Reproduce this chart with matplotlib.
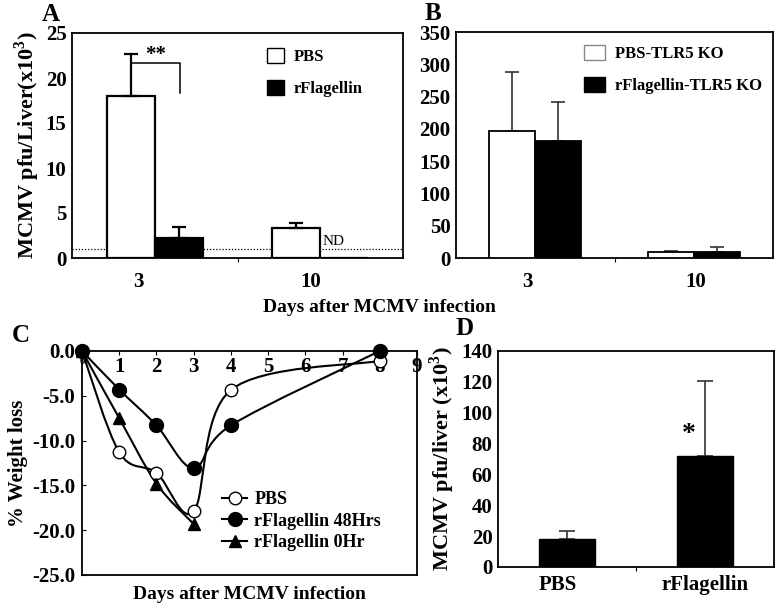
import numpy as np
import matplotlib
matplotlib.use("Agg")
import matplotlib.pyplot as plt
from matplotlib.path import Path
from matplotlib.patches import PathPatch, Rectangle
from matplotlib.lines import Line2D

plt.rcParams['font.family'] = ['Liberation Serif', 'DejaVu Serif']
plt.rcParams['font.weight'] = 'bold'
plt.rcParams['axes.labelweight'] = 'bold'
plt.rcParams['axes.linewidth'] = 1.3

# ---- data ----
# panel A
days_ab = ['3', '10']
a_pbs = [18.0, 3.35]
a_pbs_err = [4.7, 0.55]
a_flag = [2.2, 0.0]
a_flag_err = [1.2, 0.0]
a_detect_limit = 1.0

# panel B
b_pbs = [197, 9]
b_pbs_err = [91, 2]
b_flag = [181, 10]
b_flag_err = [61, 7]

# panel C
c_days = [0, 1, 2, 3, 4, 8]
c_pbs = [0.0, -11.3, -13.6, -17.9, -4.35, -1.1]
c_flag48 = [0.0, -4.3, -8.3, -13.1, -8.3, 0.0]
c_days0 = [0, 1, 2, 3]
c_flag0 = [0.0, -7.5, -14.8, -19.3]

# panel D
d_groups = ['PBS', 'rFlagellin']
d_vals = [18.1, 72.0]
d_err = [5.2, 48.5]

W, H = 779, 614
fig = plt.figure(figsize=(W / 100, H / 100), dpi=100)


def box(l, t, r, b):
    return [l / W, 1 - b / H, (r - l) / W, (b - t) / H]


def smooth_path(xs, ys):
    # Excel-like smoothed line: Catmull-Rom segments as cubic Beziers
    pts = np.column_stack([xs, ys]).astype(float)
    n = len(pts)
    verts = [pts[0]]
    codes = [Path.MOVETO]
    for i in range(n - 1):
        p0 = pts[max(i - 1, 0)]
        p1 = pts[i]
        p2 = pts[i + 1]
        p3 = pts[min(i + 2, n - 1)]
        c1 = p1 + (p2 - p0) / 6.0
        c2 = p2 - (p3 - p1) / 6.0
        verts += [c1, c2, p2]
        codes += [Path.CURVE4] * 3
    return Path(verts, codes)


# ---------------- panel A ----------------
axA = fig.add_axes(box(72, 33, 403, 258))
xc = np.array([0.5, 1.5])
bw = 0.29
axA.bar(xc - bw / 2, a_pbs, bw, color='white', edgecolor='black', lw=1.6, zorder=3)
axA.bar(xc + bw / 2, a_flag, bw, color='black', edgecolor='black', lw=1.6, zorder=3)
axA.errorbar(xc - bw / 2, a_pbs, yerr=[[0, 0], a_pbs_err], fmt='none',
             ecolor='black', elinewidth=1.6, capsize=5, capthick=1.6, zorder=4)
axA.errorbar((xc + bw / 2)[:1], a_flag[:1], yerr=[[0], a_flag_err[:1]], fmt='none',
             ecolor='black', elinewidth=1.6, capsize=5, capthick=1.6, zorder=4)
axA.axhline(a_detect_limit, color='black', lw=0.9, ls=(0, (1, 1.5)), zorder=2)
axA.text(1.515, a_detect_limit + 0.1, 'ND', fontsize=11, fontweight='normal',
         ha='left', va='bottom')
# significance bracket
bx0, bx1 = xc[0] - bw / 2, 0.65
axA.plot([bx0, bx1, bx1], [21.7, 21.7, 18.3], color='black', lw=1.1, zorder=4)
axA.text((bx0 + bx1) / 2, 21.5, '**', ha='center', va='bottom', fontsize=15)
axA.set_xlim(0, 2)
axA.set_ylim(0, 25)
axA.set_yticks([0, 5, 10, 15, 20, 25])
axA.tick_params(axis='y', length=0, labelsize=15, pad=4)
axA.set_xticks([0.40, 1.44])
axA.set_xticklabels(days_ab)
axA.set_xticks([1.0], minor=True)
axA.tick_params(axis='x', which='major', length=0, labelsize=15, pad=10)
axA.tick_params(axis='x', which='minor', length=3, direction='out', width=0.8)
axA.set_ylabel('MCMV pfu/Liver(x10$^\\mathregular{3}$)', fontsize=16, labelpad=3)
axA.legend(handles=[Rectangle((0, 0), 1, 1, fc='white', ec='black', lw=1.0),
                    Rectangle((0, 0), 1, 1, fc='black', ec='black')],
           labels=['PBS', 'rFlagellin'], loc='upper left',
           bbox_to_anchor=(0.545, 1.0), frameon=False, fontsize=12,
           handlelength=1.0, handleheight=1.0, handletextpad=0.6, labelspacing=0.9)
fig.text(42 / W, 1 - 21 / H, 'A', fontsize=18, ha='left', va='baseline')

# ---------------- panel B ----------------
axB = fig.add_axes(box(456, 32, 773, 258))
axB.bar(xc - bw / 2, b_pbs, bw, color='white', edgecolor='black', lw=1.3, zorder=3)
axB.bar(xc + bw / 2, b_flag, bw, color='black', edgecolor='black', lw=1.3, zorder=3)
axB.errorbar(xc - bw / 2, b_pbs, yerr=[[0, 0], b_pbs_err], fmt='none',
             ecolor='#333333', elinewidth=1.2, capsize=5, capthick=1.2, zorder=2)
axB.errorbar(xc + bw / 2, b_flag, yerr=[[0, 0], b_flag_err], fmt='none',
             ecolor='#333333', elinewidth=1.2, capsize=5, capthick=1.2, zorder=2)
axB.set_xlim(0, 2)
axB.set_ylim(0, 350)
axB.set_yticks(np.arange(0, 351, 50))
axB.tick_params(axis='y', length=0, labelsize=15, pad=4)
axB.set_xticks([0.45, 1.51])
axB.set_xticklabels(days_ab)
axB.set_xticks([1.0], minor=True)
axB.tick_params(axis='x', which='major', length=0, labelsize=15, pad=10)
axB.tick_params(axis='x', which='minor', length=3, direction='out', width=0.8)
axB.legend(handles=[Rectangle((0, 0), 1, 1, fc='white', ec='#888888', lw=1.0),
                    Rectangle((0, 0), 1, 1, fc='black', ec='black')],
           labels=['PBS-TLR5 KO', 'rFlagellin-TLR5 KO'], loc='upper left',
           bbox_to_anchor=(0.355, 1.01), frameon=False, fontsize=12,
           handlelength=1.3, handleheight=1.0, handletextpad=0.6, labelspacing=0.9)
fig.text(425 / W, 1 - 20 / H, 'B', fontsize=18, ha='left', va='baseline')

fig.text(379 / W, 1 - 312 / H, 'Days after MCMV infection', fontsize=14,
         ha='center', va='baseline')

# ---------------- panel C ----------------
axC = fig.add_axes(box(82, 351, 417, 575))
for xs, ys, mk, fc, ms in [(c_days, c_pbs, 'o', 'white', 9),
                           (c_days, c_flag48, 'o', 'black', 10),
                           (c_days0, c_flag0, '^', 'black', 9)]:
    axC.add_patch(PathPatch(smooth_path(xs, ys), fc='none', ec='black', lw=1.5,
                            zorder=3, clip_on=False))
    axC.plot(xs, ys, ls='none', marker=mk, mfc=fc, mec='black', ms=ms, mew=1.0,
             zorder=4, clip_on=False)
axC.set_xlim(0, 9)
axC.set_ylim(-25, 0)
axC.set_xticks(range(0, 10))
axC.xaxis.tick_top()
axC.tick_params(axis='x', direction='in', length=3, width=0.8, labeltop=False,
                labelbottom=False, top=True, bottom=False)
# day labels sit inside the plot, just under the top axis
for i in range(0, 10):
    axC.text(i, -0.7, str(i), ha='center', va='top',
             fontsize=15 if i else 8, zorder=2)
axC.set_yticks(np.arange(-25, 0.1, 5))
axC.set_yticklabels(['%.1f' % v for v in np.arange(-25, 0.1, 5)])
axC.tick_params(axis='y', direction='in', length=3, width=0.8, labelsize=15, pad=5)
axC.set_ylabel('% Weight loss', fontsize=15, labelpad=3)
axC.set_xlabel('Days after MCMV infection', fontsize=14, labelpad=8)
h_pbs = Line2D([], [], color='black', lw=1.5, marker='o', mfc='white', mec='black', ms=9)
h_48 = Line2D([], [], color='black', lw=1.5, marker='o', mfc='black', ms=10)
h_0 = Line2D([], [], color='black', lw=1.5, marker='^', mfc='black', ms=9)
axC.legend(handles=[h_pbs, h_48, h_0],
           labels=['PBS', 'rFlagellin 48Hrs', 'rFlagellin 0Hr'],
           loc='lower left', bbox_to_anchor=(0.38, 0.05), frameon=False,
           fontsize=13, handlelength=1.4, handletextpad=0.4, labelspacing=0.25,
           borderpad=0.2)
fig.text(12 / W, 1 - 342 / H, 'C', fontsize=18, ha='left', va='baseline')

# ---------------- panel D ----------------
axD = fig.add_axes(box(498, 351, 774, 567))
dx = np.array([0.5, 1.5])
axD.bar(dx, d_vals, 0.40, color='black', edgecolor='black', zorder=3)
axD.errorbar(dx, d_vals, yerr=[[0, 0], d_err], fmt='none', ecolor='#333333',
             elinewidth=1.2, capsize=6, capthick=1.2, zorder=2)
axD.text(1.38, 78, '*', ha='center', va='bottom', fontsize=20)
axD.set_xlim(0, 2)
axD.set_ylim(0, 140)
axD.set_yticks(np.arange(0, 141, 20))
axD.tick_params(axis='y', length=0, labelsize=15, pad=4)
axD.set_xticks([0.43, 1.5])
axD.set_xticklabels(d_groups)
axD.set_xticks([1.0], minor=True)
axD.tick_params(axis='x', which='major', length=0, labelsize=15, pad=6)
axD.tick_params(axis='x', which='minor', length=3, direction='out', width=0.8)
axD.set_ylabel('MCMV pfu/liver (x10$^\\mathregular{3}$)', fontsize=16, labelpad=3)
fig.text(455 / W, 1 - 335 / H, 'D', fontsize=18, ha='left', va='baseline')

plt.savefig('out.png', dpi=100)
